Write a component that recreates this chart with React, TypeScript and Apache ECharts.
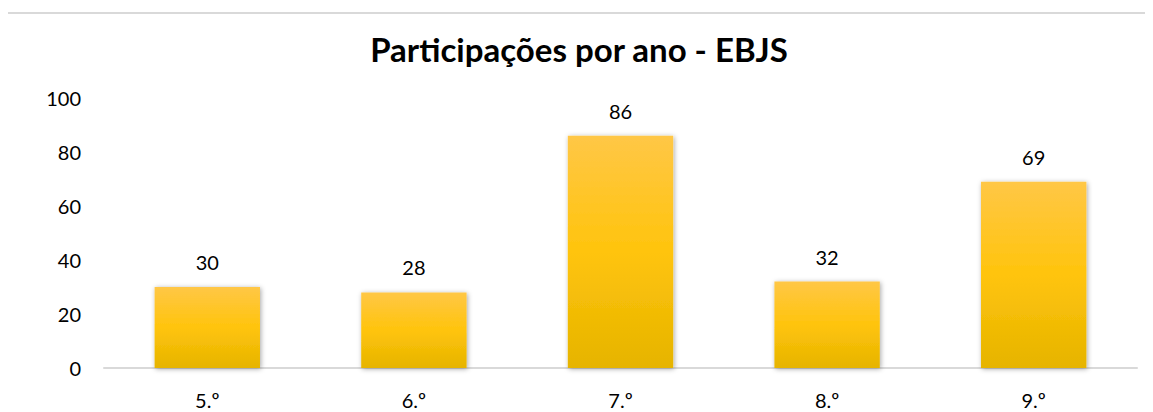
import React, { useEffect, useRef } from "react";
import * as echarts from "echarts";

const categories = ["5.º", "6.º", "7.º", "8.º", "9.º"];
const values = [30, 28, 86, 32, 69];
const yTicks = [0, 20, 40, 60, 80, 100];

export default function App() {
  const ref = useRef<HTMLDivElement>(null);
  useEffect(() => {
    document.documentElement.style.overflow = "hidden";
    document.body.style.overflow = "hidden";
    if (!ref.current) return;
    const chart = echarts.init(ref.current, null, { renderer: "svg" });
    chart.setOption({
      animation: false,
      textStyle: { fontFamily: "Lato" },
      title: {
        text: "Participações por ano - EBJS",
        left: "center",
        top: 19,
        textStyle: { fontFamily: "Lato", fontWeight: "bold", fontSize: 33, color: "#000" },
      },
      graphic: [
        {
          type: "polyline",
          shape: { points: [[1, 420], [1, 5], [1160, 5]] },
          style: { fill: "none", stroke: "#D9D9D9", lineWidth: 2 },
          silent: true,
          z: -10,
        },
      ],
      grid: { left: 99, right: 16, top: 90, bottom: 44 },
      xAxis: {
        type: "category",
        data: categories,
        axisLine: { lineStyle: { color: "#D9D9D9", width: 2 } },
        axisTick: { show: false },
        axisLabel: { color: "#000", fontSize: 20, margin: 22, fontFamily: "Lato" },
      },
      yAxis: {
        type: "value",
        min: yTicks[0],
        max: yTicks[yTicks.length - 1],
        interval: 20,
        splitLine: { show: false },
        axisLine: { show: false },
        axisTick: { show: false },
        axisLabel: { color: "#000", fontSize: 20, margin: 23, fontFamily: "Lato" },
      },
      series: [
        {
          type: "bar",
          data: values,
          barWidth: "51%",
          itemStyle: {
            color: new echarts.graphic.LinearGradient(0, 0, 0, 1, [
              { offset: 0, color: "#FFC746" },
              { offset: 0.5, color: "#FFC40C" },
              { offset: 1, color: "#E6B400" },
            ]),
            shadowBlur: 5,
            shadowColor: "rgba(0,0,0,0.35)",
            shadowOffsetX: 1,
            shadowOffsetY: 1,
          },
          label: {
            show: true,
            position: "top",
            distance: 15,
            color: "#000",
            fontSize: 20,
            fontFamily: "Lato",
          },
        },
      ],
    });
    return () => chart.dispose();
  }, []);
  return <div ref={ref} style={{ width: 1148, height: 404, marginLeft: -3 }} />;
}
